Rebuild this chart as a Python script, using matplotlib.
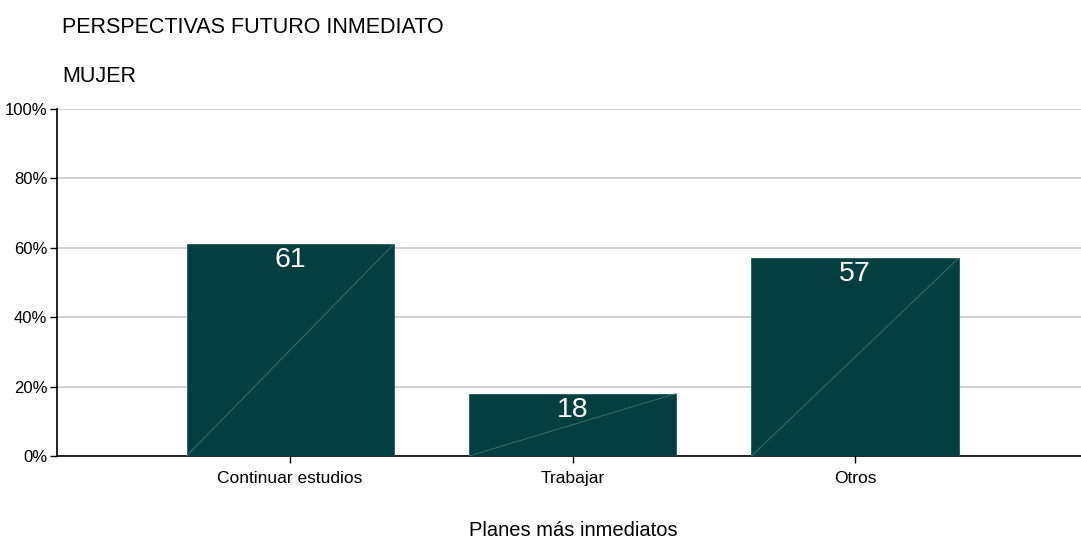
import matplotlib
matplotlib.use("Agg")
import matplotlib.pyplot as plt
from matplotlib.ticker import FuncFormatter

categories = ["Continuar estudios", "Trabajar", "Otros"]
values = [61, 18, 57]
yticks = [0, 20, 40, 60, 80, 100]

title = "PERSPECTIVAS FUTURO INMEDIATO"
subtitle = "MUJER"
xlabel = "Planes más inmediatos"

bar_color = "#043F3F"
diag_color = "#3A7A78"
regular = ["Liberation Sans", "DejaVu Sans"]

fig = plt.figure(figsize=(10.81, 5.38), dpi=100)
ax = fig.add_axes([57/1081, 1 - 456/538, 1 - 57/1081, (456 - 109)/538])

x = list(range(len(categories)))
width = 0.733
ax.bar(x, values, width=width, color=bar_color, edgecolor="#1F5A58", linewidth=0.6, zorder=3)
for xi, v in zip(x, values):
    ax.plot([xi - width/2, xi + width/2], [0, v], color=diag_color, lw=0.6, zorder=4)
    ax.text(xi, v - 0.9, f"{v}", ha="center", va="top", color="white",
            fontsize=20.5, family=regular, zorder=5)

ax.set_xlim(-0.825, 2.8)
ax.set_ylim(0, 100)
ax.set_yticks(yticks)
ax.yaxis.set_major_formatter(FuncFormatter(lambda v, p: f"{int(v)}%"))
ax.set_xticks(x)
ax.set_xticklabels(categories, family=regular, fontsize=12.5)
for lab in ax.get_yticklabels():
    lab.set_family(regular)
    lab.set_fontsize(12)
ax.tick_params(axis="y", length=5, width=1, pad=2, color="black")
ax.tick_params(axis="x", length=5, width=1, pad=6, color="black")
ax.grid(axis="y", color="#C8C8C8", lw=1.2, zorder=0)
ax.set_axisbelow(True)
for s in ["top", "right"]:
    ax.spines[s].set_visible(False)
ax.spines["left"].set_linewidth(1.2)
ax.spines["bottom"].set_linewidth(1.2)

fig.text(62/1081, 1 - 28/538, title, ha="left", va="center", fontsize=15.5, family=regular)
fig.text(62/1081, 1 - 77/538, subtitle, ha="left", va="center", fontsize=15.5, family=regular)
fig.text(573/1081, 1 - 530/538, xlabel, ha="center", va="center", fontsize=14.5, family=regular)

fig.savefig("out.png", dpi=100)
